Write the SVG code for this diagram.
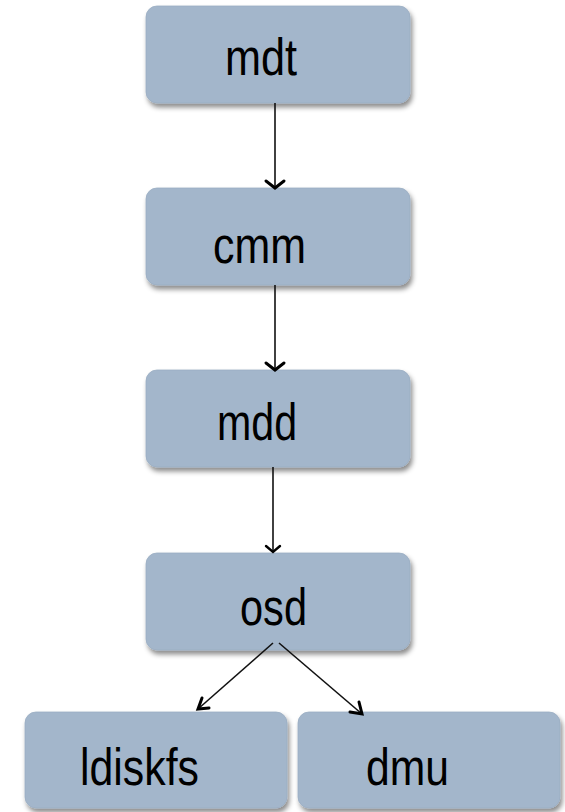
<svg xmlns="http://www.w3.org/2000/svg" width="565" height="812" viewBox="0 0 565 812">
<style>
.box{fill:#a3b6cb;stroke:#9aadc3;stroke-width:0.8;filter:url(#sh)}
.lbl{font-family:"Liberation Sans",Arial,sans-serif;font-size:52px;fill:#000}
.cn{stroke:#111;stroke-width:1.6;fill:none}
.ah{stroke:#000;stroke-width:3;fill:none;stroke-linecap:round;stroke-linejoin:miter}
</style>
<defs>
<filter id="sh" x="-10%" y="-10%" width="125%" height="130%">
<feDropShadow dx="2" dy="4" stdDeviation="2.5" flood-color="#000" flood-opacity="0.45"/>
</filter>
</defs>
<rect width="565" height="812" fill="#fff"/>
<g id="mdt"><rect class="box" x="146" y="6" width="264" height="97" rx="11"/><text class="lbl" x="225" y="75" textLength="72" lengthAdjust="spacingAndGlyphs">mdt</text></g>
<g id="cmm"><rect class="box" x="146" y="188" width="264" height="97" rx="11"/><text class="lbl" x="213" y="263" textLength="93" lengthAdjust="spacingAndGlyphs">cmm</text></g>
<g id="mdd"><rect class="box" x="146" y="370" width="264" height="97" rx="11"/><text class="lbl" x="217" y="440" textLength="80" lengthAdjust="spacingAndGlyphs">mdd</text></g>
<g id="osd"><rect class="box" x="146" y="553" width="264" height="97" rx="11"/><text class="lbl" x="240" y="625" textLength="67" lengthAdjust="spacingAndGlyphs">osd</text></g>
<g id="ldiskfs"><rect class="box" x="25" y="712" width="262" height="96" rx="11"/><text class="lbl" x="80" y="785" textLength="119" lengthAdjust="spacingAndGlyphs">ldiskfs</text></g>
<g id="dmu"><rect class="box" x="298" y="712" width="262" height="96" rx="11"/><text class="lbl" x="366" y="785" textLength="83" lengthAdjust="spacingAndGlyphs">dmu</text></g>
<g id="connectors">
<line class="cn" x1="275" y1="103" x2="275" y2="187"/>
<polyline class="ah" points="266,181 275,188 284,181"/>
<line class="cn" x1="275" y1="285" x2="275" y2="369"/>
<polyline class="ah" points="266,363 275,370 284,363"/>
<line class="cn" x1="273" y1="467" x2="273" y2="551"/>
<polyline class="ah" points="266,546 273,552 280,546" style="stroke-width:2.4"/>
<line class="cn" x1="273" y1="643" x2="198" y2="709"/>
<polyline class="ah" points="202,698 198,709 209,708"/>
<line class="cn" x1="279" y1="643" x2="362" y2="714"/>
<polyline class="ah" points="350,712 362,714 359,702"/>
</g>
</svg>
